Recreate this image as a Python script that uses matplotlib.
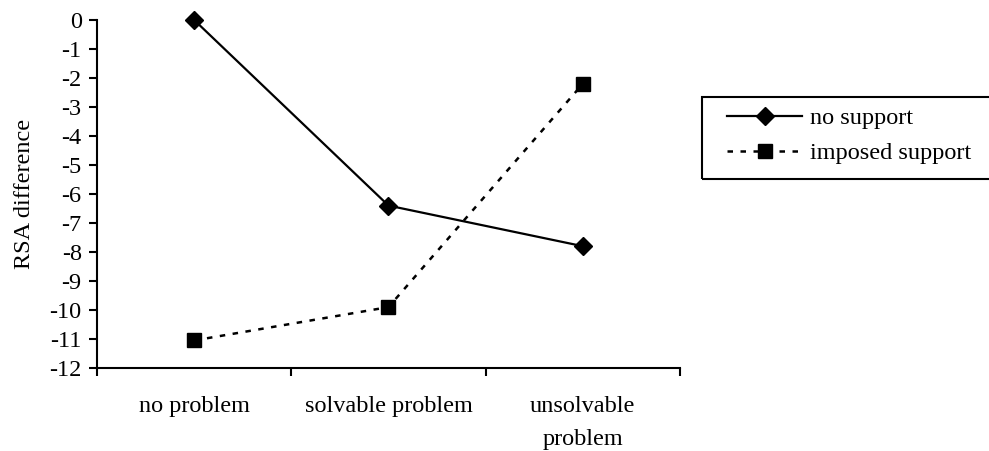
import matplotlib
matplotlib.use("Agg")
import matplotlib.pyplot as plt
from matplotlib.patches import Rectangle
from matplotlib.ticker import FixedLocator, NullFormatter

conditions = ["no problem", "solvable problem", "unsolvable\nproblem"]
no_support = [0.0, -6.4, -7.8]
imposed_support = [-11.05, -9.9, -2.2]
series_names = ["no support", "imposed support"]
y_ticks = list(range(-12, 1))

plt.rcParams["font.family"] = ["Liberation Serif", "DejaVu Serif"]
plt.rcParams["font.size"] = 17.5

W, H = 989, 451
fig = plt.figure(figsize=(W / 100, H / 100), dpi=100)
ax = fig.add_axes([97 / W, 1 - 368 / H, 583 / W, 348 / H])

x = [i + 0.5 for i in range(len(conditions))]
ax.plot(x, no_support, color="black", lw=1.6, marker="D", ms=9.5,
        label=series_names[0], clip_on=False, zorder=3)
ax.plot(x, imposed_support, color="black", lw=1.8, ls=(0, (2.2, 3.0)),
        marker="s", ms=10, label=series_names[1], clip_on=False, zorder=3)

ax.set_xlim(0, len(conditions))
ax.set_ylim(-12, 0)
ax.set_yticks(y_ticks)
ax.set_yticklabels([str(v) for v in y_ticks])

# category boundaries get the tick marks, labels sit between them
ax.xaxis.set_major_locator(FixedLocator(range(len(conditions) + 1)))
ax.xaxis.set_major_formatter(NullFormatter())
ax.xaxis.set_minor_locator(FixedLocator(x))
ax.set_xticklabels(conditions, minor=True, linespacing=1.75)
ax.tick_params(axis="x", which="minor", length=0, pad=20)
ax.tick_params(axis="both", which="major", direction="out", length=6,
               width=1.5, color="black")
ax.tick_params(axis="y", pad=5)

for side in ["top", "right"]:
    ax.spines[side].set_visible(False)
for side in ["left", "bottom"]:
    ax.spines[side].set_linewidth(1.5)

ax.set_ylabel("RSA difference")
ax.yaxis.set_label_coords(-0.106, 0.5)

# legend box runs off the right edge of the figure
fig.patches.append(Rectangle((702 / W, 1 - 179 / H), 300 / W, 82 / H,
                             transform=fig.transFigure, fill=False,
                             edgecolor="black", lw=1.5))
fig.legend(loc="upper left", bbox_to_anchor=(727 / W, 1 - 107 / H),
           frameon=False, handlelength=3.1, handletextpad=0.3,
           labelspacing=0.55, borderpad=0, borderaxespad=0)

fig.savefig("out.png", dpi=100, facecolor="white")
